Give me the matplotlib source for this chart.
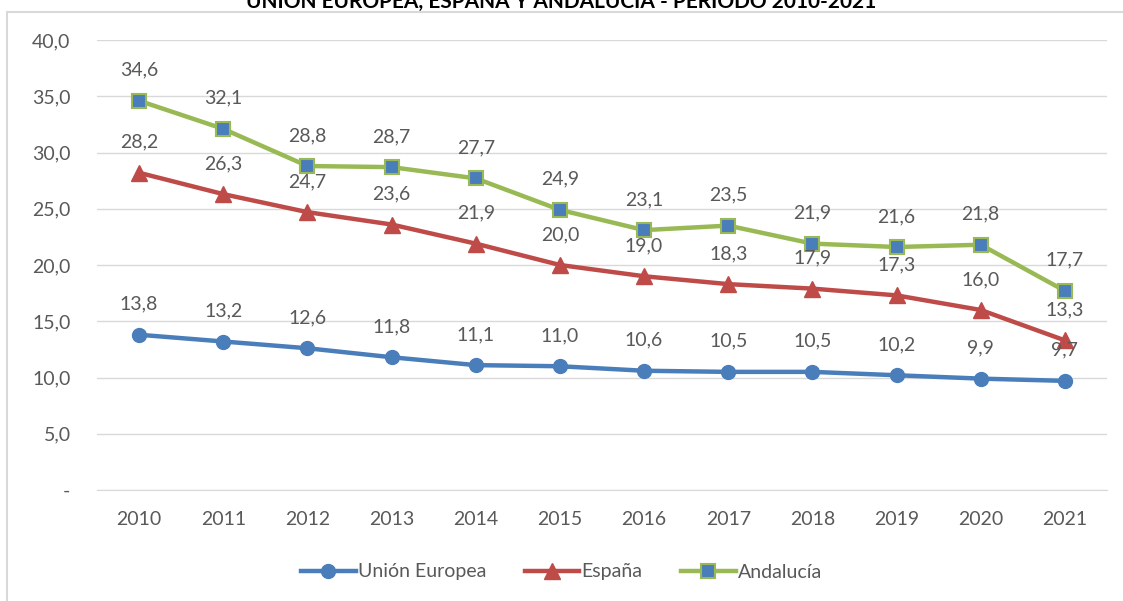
import matplotlib
matplotlib.use("Agg")
import matplotlib.pyplot as plt
from matplotlib.patches import Rectangle

years = [2010, 2011, 2012, 2013, 2014, 2015, 2016, 2017, 2018, 2019, 2020, 2021]
ue = [13.8, 13.2, 12.6, 11.8, 11.1, 11.0, 10.6, 10.5, 10.5, 10.2, 9.9, 9.7]
espana = [28.2, 26.3, 24.7, 23.6, 21.9, 20.0, 19.0, 18.3, 17.9, 17.3, 16.0, 13.3]
andalucia = [34.6, 32.1, 28.8, 28.7, 27.7, 24.9, 23.1, 23.5, 21.9, 21.6, 21.8, 17.7]
yticks = [0, 5, 10, 15, 20, 25, 30, 35, 40]
title = "UNIÓN EUROPEA, ESPAÑA Y ANDALUCÍA - PERIODO 2010-2021"

plt.rcParams['font.family'] = ['Lato', 'DejaVu Sans']
gray = '#595959'

fig = plt.figure(figsize=(11.23, 6.01), dpi=100)
fig.patches.append(Rectangle((7/1123, -0.1), 1.2, 1 - 12/601 + 0.1, transform=fig.transFigure,
                             fill=False, edgecolor='#D9D9D9', linewidth=1.5))
fig.text(0.5, 1.0, title, ha='center', va='center', fontsize=15, fontweight='bold', color='black')

ax = fig.add_axes([97/1123, 1 - 490/601, 1010/1123, 450/601])
x = list(range(len(years)))

ax.plot(x, ue, color='#4A7EBB', lw=3.2, marker='o', ms=10, mfc='#4A7EBB', mec='#4A7EBB', label='Unión Europea', zorder=3)
ax.plot(x, espana, color='#BE4B48', lw=3.2, marker='^', ms=11, mfc='#BE4B48', mec='#BE4B48', label='España', zorder=3)
ax.plot(x, andalucia, color='#98B954', lw=3.2, marker='s', ms=10, mfc='#4A7EBB', mec='#98B954', mew=1.5, label='Andalucía', zorder=3)

for series in (ue, espana, andalucia):
    for xi, v in zip(x, series):
        ax.annotate(f"{v:.1f}".replace('.', ','), (xi, v), xytext=(0, 22), textcoords='offset points',
                    ha='center', va='center', fontsize=14, color=gray)

ax.set_xlim(-0.5, len(years) - 0.5)
ax.set_ylim(0, 40)
ax.set_yticks(yticks)
ax.set_yticklabels(['-' if t == 0 else f"{t:.1f}".replace('.', ',') for t in yticks])
ax.set_xticks(x)
ax.set_xticklabels([str(y) for y in years])
ax.tick_params(axis='both', length=0, labelsize=14, labelcolor=gray)
ax.tick_params(axis='y', pad=19)
ax.tick_params(axis='x', pad=15)
ax.grid(axis='y', color='#D9D9D9', lw=1)
ax.set_axisbelow(True)
for s in ('top', 'right', 'left'):
    ax.spines[s].set_visible(False)
ax.spines['bottom'].set_color('#D9D9D9')

leg = fig.legend(loc='center', bbox_to_anchor=(0.5, 1 - 572/601), ncol=3, frameon=False,
                 fontsize=14, handlelength=2.8, handletextpad=0.1, columnspacing=2.0)
for t in leg.get_texts():
    t.set_color(gray)

fig.savefig('out.png', dpi=100)
